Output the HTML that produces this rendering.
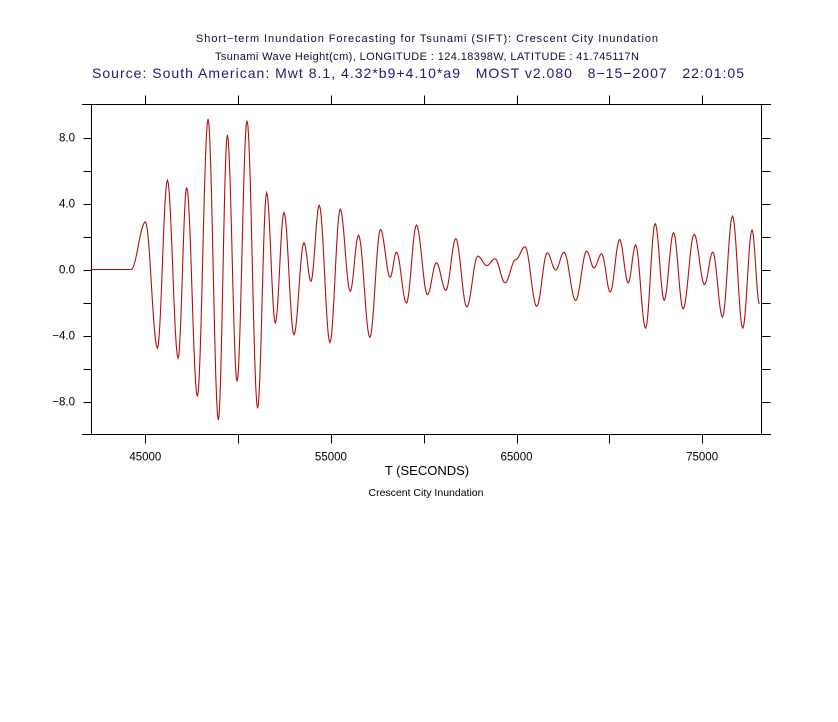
<!DOCTYPE html>
<html><head><meta charset="utf-8"><style>
body{margin:0;background:#fff;}
svg{display:block;font-family:"Liberation Sans",sans-serif;}
text{white-space:pre;}
</style></head><body>
<svg width="838" height="722" viewBox="0 0 838 722">
<rect width="838" height="722" fill="#fff"/>
<text x="427" y="42" font-size="11" text-anchor="middle" fill="#101030" textLength="462">Short−term Inundation Forecasting for Tsunami (SIFT): Crescent City Inundation</text>
<text x="427" y="60" font-size="11" text-anchor="middle" fill="#101030" textLength="424">Tsunami Wave Height(cm), LONGITUDE : 124.18398W, LATITUDE : 41.745117N</text>
<text x="418" y="78" font-size="14" text-anchor="middle" fill="#1c1c78" textLength="652">Source: South American: Mwt 8.1, 4.32*b9+4.10*a9   MOST v2.080   8−15−2007   22:01:05</text>
<g id="axes"></g>
<path id="wave" fill="none" stroke="#b01010" stroke-width="1.1"/>
<text x="427" y="475" font-size="13" text-anchor="middle" fill="#000">T (SECONDS)</text>
<text x="426" y="496" font-size="10.5" text-anchor="middle" fill="#000">Crescent City Inundation</text>
</svg>
<script>
const times=[42100,44237,45006,45652,46190,46766,47229,47805,48381,48935,49420,49942,50480,51050,51535,52003,52471,53009,53547,53924,54371,54947,55501,56039,56486,57100,57670,58192,58531,59069,59608,60200,60684,61190,61728,62320,62912,63397,63843,64381,64957,65458,66088,66658,67110,67557,68187,68779,69171,69586,70049,70555,71018,71416,71954,72471,72955,73461,73977,74570,75129,75576,76098,76636,77191,77691,78089];
const heights=[0,0,2.88,-4.76,5.41,-5.37,4.97,-7.7,9.12,-9.12,8.15,-6.79,9.02,-8.41,4.66,-3.24,3.45,-3.95,1.62,-0.71,3.89,-4.42,3.65,-1.32,2.07,-4.11,2.43,-0.47,1.05,-2.03,2.69,-1.52,0.41,-1.26,1.87,-2.27,0.81,0.24,0.65,-0.81,0.6,1.38,-2.23,1.01,-0.04,1.05,-1.88,1.11,0.1,0.95,-1.36,1.82,-0.81,1.48,-3.55,2.78,-1.86,2.23,-2.39,2.13,-0.91,1.05,-2.88,3.24,-3.55,2.39,-2.1];
const xTicks=[45000,50000,55000,60000,65000,70000,75000];
const xLabels=[45000,55000,65000,75000];
const yTicks=[-10,-8,-6,-4,-2,0,2,4,6,8,10];
const yLabels=[-8,-4,0,4,8];
const X0=91.5,X1=761.5,Y0=104.5,Y1=434.5,TMIN=42100,TMAX=78200,VMIN=-10,VMAX=10;
const sx=t=>X0+(t-TMIN)/(TMAX-TMIN)*(X1-X0);
const sy=v=>Y1-(v-VMIN)/(VMAX-VMIN)*(Y1-Y0);
const NS="http://www.w3.org/2000/svg";
const ax=document.getElementById('axes');
function ln(x1,y1,x2,y2,name){const l=document.createElementNS(NS,'line');l.setAttribute('x1',x1);l.setAttribute('y1',y1);l.setAttribute('x2',x2);l.setAttribute('y2',y2);l.setAttribute('stroke','#000');l.setAttribute('stroke-width','1');


ax.appendChild(l);}
function tx(x,y,s,anchor,name){const t=document.createElementNS(NS,'text');t.setAttribute('x',x);t.setAttribute('y',y);t.setAttribute('font-size','11.5');t.setAttribute('text-anchor',anchor);t.textContent=s;


ax.appendChild(t);}
ln(82,Y0,771,Y0,'top-axis');ln(82,Y1,771,Y1,'bottom-axis');ln(X0,Y0,X0,Y1,'left-axis');ln(X1,Y0,X1,Y1,'right-axis');
xTicks.forEach(t=>{const x=Math.round(sx(t))+0.5;ln(x,Y1,x,Y1+9,'x-tick');ln(x,Y0,x,Y0-9,'x-top-tick');});
xLabels.forEach(t=>tx(sx(t),Y1+26,String(t),'middle','x-tick-label'));
yTicks.forEach(v=>{const y=Math.round(sy(v))+0.5;if(v!==10&&v!==-10){ln(X0-8,y,X0,y,'y-tick');ln(X1,y,X1+9,y,'y-right-tick');}});
yLabels.forEach(v=>tx(75,sy(v)+4,(v<0?'−':'')+Math.abs(v).toFixed(1),'end','y-tick-label'));
let d='M'+sx(times[0]).toFixed(2)+','+sy(heights[0]).toFixed(2);
for(let i=1;i<times.length;i++){const t0=times[i-1],t1=times[i],v0=heights[i-1],v1=heights[i];
 for(let k=1;k<=12;k++){const f=k/12,m=(1-Math.cos(Math.PI*f))/2;d+=' L'+sx(t0+(t1-t0)*f).toFixed(2)+','+sy(v0+(v1-v0)*m).toFixed(2);}}
document.getElementById('wave').setAttribute('d',d);
</script>
</body></html>
